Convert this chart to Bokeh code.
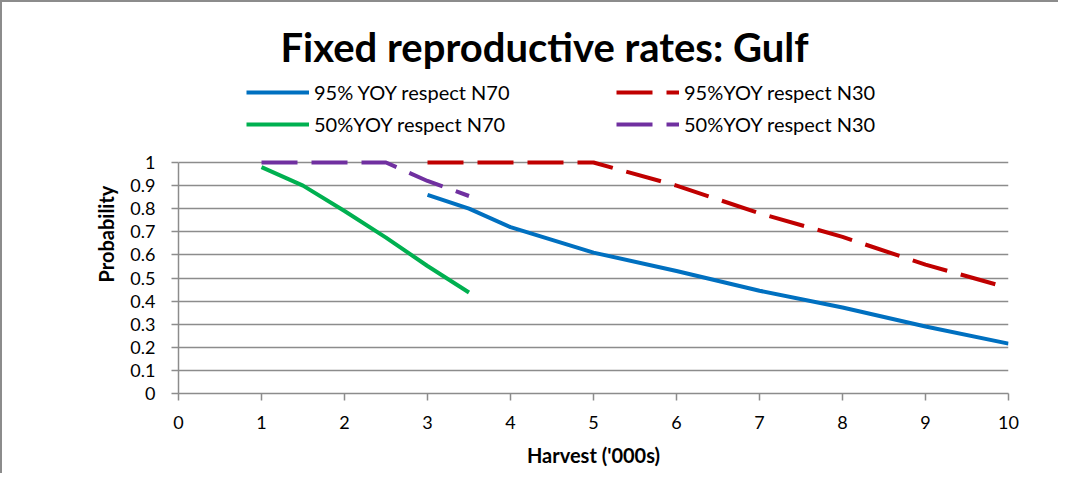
from bokeh.plotting import figure
from bokeh.models import Legend, LegendItem, Title, FixedTicker, Range1d
from bokeh.embed import file_html
from bokeh.resources import INLINE

# data
x_blue = [3, 3.5, 4, 5, 6, 7, 8, 9, 10]
y_blue = [0.86, 0.80, 0.72, 0.61, 0.53, 0.445, 0.372, 0.29, 0.216]
x_red = [3, 3.5, 4, 5, 6, 7, 8, 9, 10]
y_red = [1.0, 1.0, 1.0, 1.0, 0.90, 0.78, 0.678, 0.558, 0.457]
x_green = [1, 1.5, 2, 2.5, 3, 3.5]
y_green = [0.98, 0.90, 0.79, 0.675, 0.552, 0.437]
x_purple = [1, 1.5, 2, 2.5, 3, 3.5]
y_purple = [1.0, 1.0, 1.0, 1.0, 0.92, 0.855]
labels = ["95% YOY respect N70", "95%YOY respect N30", "50%YOY respect N70", "50%YOY respect N30"]
x_ticks = list(range(0, 11))
y_ticks = [0, 0.1, 0.2, 0.3, 0.4, 0.5, 0.6, 0.7, 0.8, 0.9, 1.0]

FONT = "Lato"
GRAY = "#8c8c8c"

# frame extends above y=1 to hold the legend (231 px per unit)
p = figure(frame_width=830, frame_height=319, output_backend="svg", toolbar_location=None,
           x_range=Range1d(0, 10), y_range=Range1d(0, 319 / 231),
           min_border_left=176, min_border_right=50, min_border_top=72, min_border_bottom=80)
p.styles = {"border-left": "2px solid #8c8c8c", "border-top": "2px solid #8c8c8c"}

r_blue = p.line(x_blue, y_blue, line_color="#0070C0", line_width=4)
r_red = p.line(x_red, y_red, line_color="#C00000", line_width=4, line_dash="36 14")
r_green = p.line(x_green, y_green, line_color="#00B050", line_width=4)
r_purple = p.line(x_purple, y_purple, line_color="#7030A0", line_width=4, line_dash="36 14")

p.outline_line_color = None
p.xgrid.grid_line_color = None
p.ygrid.grid_line_color = GRAY
p.ygrid.grid_line_width = 1.5
p.yaxis.ticker = FixedTicker(ticks=y_ticks)
p.xaxis.ticker = FixedTicker(ticks=x_ticks)
p.yaxis.major_label_overrides = {0: "0", 1: "1"}
p.yaxis.bounds = (0, 1)

for ax in (p.xaxis[0], p.yaxis[0]):
    ax.axis_line_color = GRAY
    ax.axis_line_width = 1.5
    ax.major_tick_line_color = GRAY
    ax.major_tick_line_width = 1.5
    ax.major_tick_out = 7
    ax.major_tick_in = 0
    ax.minor_tick_line_color = None
    ax.major_label_text_font = FONT
    ax.major_label_text_font_size = "18px"
    ax.major_label_text_color = "#000000"
    ax.axis_label_text_font = FONT
    ax.axis_label_text_font_size = "20px"
    ax.axis_label_text_font_style = "bold"
    ax.axis_label_text_color = "#000000"

p.xaxis.axis_label = "Harvest ('000s)"
p.yaxis.axis_label = "Probability"
p.xaxis.major_label_standoff = 15
p.xaxis.axis_label_standoff = 11
p.yaxis.major_label_standoff = 16
p.yaxis.axis_label_standoff = 9

legend = Legend(items=[
    LegendItem(label=labels[0], renderers=[r_blue]),
    LegendItem(label=labels[2], renderers=[r_green]),
    LegendItem(label=labels[1], renderers=[r_red]),
    LegendItem(label=labels[3], renderers=[r_purple]),
], ncols=2, location=(68, 257))
legend.border_line_color = None
legend.background_fill_alpha = 0
legend.label_text_font = FONT
legend.label_text_font_size = "20px"
legend.label_text_color = "#000000"
legend.glyph_width = 63
legend.glyph_height = 24
legend.label_height = 24
legend.label_standoff = 5
legend.label_width = 294
legend.spacing = 8
legend.padding = 0
legend.margin = 0
p.add_layout(legend, "center")

title = Title(text="Fixed reproductive rates: Gulf", align="left", offset=102,
              text_font=FONT, text_font_size="40px", text_font_style="bold",
              text_color="#000000", standoff=8)
p.add_layout(title, "above")

open("out.html", "w").write(file_html(p, INLINE))
